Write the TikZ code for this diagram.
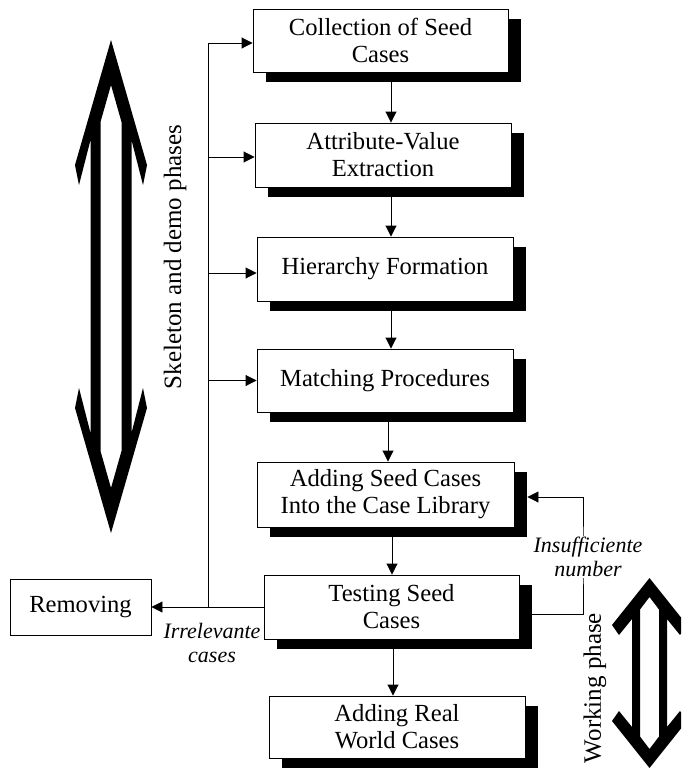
\documentclass[tikz,border=0pt]{standalone}
\usepackage{fontspec}
\setmainfont{Liberation Serif}
\usetikzlibrary{arrows.meta,shadows}
\begin{document}
\begin{tikzpicture}[x=1pt,y=-1pt,
  box/.style={draw=black, line width=0.9pt, fill=white, align=center, inner sep=0pt,
    font=\fontsize{24.6}{27}\selectfont,
    drop shadow={shadow xshift=13pt, shadow yshift=-10pt, fill=black, opacity=1}},
  plainbox/.style={draw=black, line width=0.9pt, fill=white, align=center, inner sep=0pt,
    font=\fontsize{24.6}{27}\selectfont},
  arr/.style={line width=0.9pt, -{Triangle[length=11pt,width=11pt]}},
  conn/.style={line width=0.9pt},
  lbl/.style={font=\fontsize{22}{24}\selectfont\itshape, align=center, inner sep=1pt},
  side/.style={font=\fontsize{25}{27}\selectfont, rotate=90, inner sep=0pt}]
\useasboundingbox (0,0) rectangle (681,769);
\clip (0,0) rectangle (681,769);

% big double arrows
\fill[even odd rule]
  (111,40) -- (147,165) -- (143,185) -- (131.5,140) -- (131.5,433) -- (143,388) -- (147,408)
  -- (111,533) -- (75,408) -- (79,388) -- (90.5,433) -- (90.5,140) -- (79,185) -- (75,165) -- cycle
  (111,85) -- (121.5,122) -- (121.5,451) -- (111,488) -- (100.5,451) -- (100.5,122) -- cycle;
\fill[even odd rule]
  (649.5,578) -- (687,625) -- (680,635) -- (667,619) -- (667,727) -- (680,711) -- (687,721)
  -- (649.5,768) -- (612,721) -- (619,711) -- (632,727) -- (632,619) -- (619,635) -- (612,625) -- cycle
  (649.5,597) -- (659,609.5) -- (659,736.5) -- (649.5,749) -- (640,736.5) -- (640,609.5) -- cycle;

\node[side] (skel) at (175,257) {Skeleton and demo phases};
\node[side] (work) at (595,688) {Working phase};

% boxes
\node[box, minimum width=255pt, minimum height=63pt] (B1) at (380.5,40.5) {Collection of Seed\\Cases};
\node[box, minimum width=256pt, minimum height=64pt] (B2) at (383,155) {Attribute-Value\\Extraction};
\node[box, minimum width=256pt, minimum height=64pt] (B3) at (385,269) {Hierarchy Formation};
\node[box, minimum width=256pt, minimum height=63pt] (B4) at (385,380.5) {Matching Procedures};
\node[box, minimum width=257pt, minimum height=65pt] (B5) at (385.5,494.5) {Adding Seed Cases\\Into the Case Library};
\node[box, minimum width=255pt, minimum height=64pt] (B6) at (391.5,607) {Testing Seed\\Cases};
\node[box, minimum width=256pt, minimum height=62pt] (B7) at (397,727) {Adding Real\\World Cases};
\node[plainbox, minimum width=141pt, minimum height=56pt] (Rem) at (80.5,607) {Removing};

% vertical flow arrows
\coordinate (va) at (391,0);
\coordinate (vb) at (388,0);
\coordinate (vc) at (392,0);
\coordinate (vd) at (393,0);
\draw[arr] (B1.south -| va) -- (B2.north -| va);
\draw[arr] (B2.south -| va) -- (B3.north -| va);
\draw[arr] (B3.south -| va) -- (B4.north -| va);
\draw[arr] (B4.south -| vb) -- (B5.north -| vb);
\draw[arr] (B5.south -| vc) -- (B6.north -| vc);
\draw[arr] (B6.south -| vd) -- (B7.north -| vd);

% left bus
\coordinate (bus) at (208,0);
\draw[arr] (B6.west) -- (Rem.east);
\draw[arr] (bus |- B6.west) -- (bus |- 0,43) -- ([yshift=-2.5pt]B1.west);
\draw[arr] (bus |- 0,157) -- ([yshift=-2pt]B2.west);
\draw[arr] (bus |- 0,273) -- ([yshift=-4pt]B3.west);
\draw[arr] (bus |- B4.west) -- (B4.west);

% right loop
\coordinate (loop) at (583,555);
\draw[arr] ([yshift=-7pt]B6.east) -| (loop) |- ([xshift=13pt,yshift=-2.5pt]B5.east);
\node[lbl, fill=white] (ins) at (588,557) {Insufficiente\\number};
\node[lbl] (irr) at (212,643) {Irrelevante\\cases};
\end{tikzpicture}
\end{document}
